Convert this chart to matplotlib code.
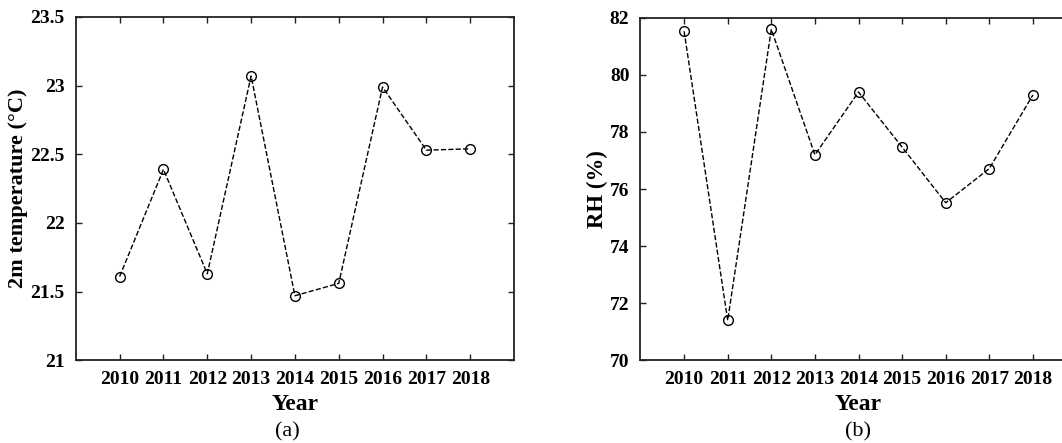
import matplotlib
matplotlib.use('Agg')
import matplotlib.pyplot as plt
from matplotlib.ticker import FuncFormatter

plt.rcParams['font.family'] = ['Liberation Serif', 'DejaVu Serif']

# data
years = [2010, 2011, 2012, 2013, 2014, 2015, 2016, 2017, 2018]
temp_2m = [21.61, 22.39, 21.63, 23.07, 21.47, 21.56, 22.99, 22.53, 22.54]
rh = [81.53, 71.40, 81.60, 77.20, 79.40, 77.47, 75.52, 76.72, 79.30]

fig = plt.figure(figsize=(10.62, 4.43), dpi=100)
ax1 = fig.add_axes([0.0714, 0.1867, 0.4126, 0.775])
ax2 = fig.add_axes([0.6031, 0.1867, 0.4106, 0.773])

fmt = FuncFormatter(lambda v, p: '%g' % v)

def style(ax):
    ax.set_xlim(2009, 2019)
    ax.set_xticks(years)
    ax.tick_params(direction='in', length=4, width=1, top=True, right=True,
                   labelsize=14, pad=8, color='#222222')
    for lab in ax.get_xticklabels() + ax.get_yticklabels():
        lab.set_fontweight('bold')
    for s in ax.spines.values():
        s.set_linewidth(1.3)
        s.set_color('#222222')
    ax.yaxis.set_major_formatter(fmt)
    ax.set_xlabel('Year', fontsize=17, fontweight='bold', labelpad=4)

# (a) 2m temperature
ax1.plot(years, temp_2m, linestyle='--', color='black', linewidth=1,
         marker='o', markersize=7, markerfacecolor='none', markeredgewidth=1)
ax1.set_ylim(21, 23.5)
ax1.set_yticks([21, 21.5, 22, 22.5, 23, 23.5])
style(ax1)
ax1.set_ylabel('2m temperature (°C)', fontsize=16, fontweight='bold', labelpad=2)

# (b) RH
ax2.plot(years, rh, linestyle='--', color='black', linewidth=1,
         marker='o', markersize=7, markerfacecolor='none', markeredgewidth=1)
ax2.set_ylim(70, 82)
ax2.set_yticks([70, 72, 74, 76, 78, 80, 82])
style(ax2)
ax2.set_ylabel('RH (%)', fontsize=16.5, fontweight='bold', labelpad=1)

# panel captions
fig.text(287 / 1062, 2 / 443, '(a)', fontsize=16, ha='center', va='bottom')
fig.text(858 / 1062, 2 / 443, '(b)', fontsize=16, ha='center', va='bottom')

fig.savefig('out.png', dpi=100)
